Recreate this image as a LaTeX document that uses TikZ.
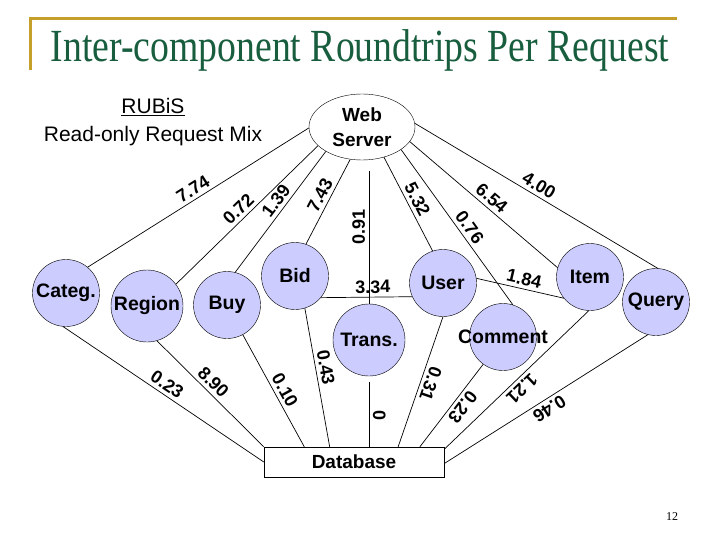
\documentclass[tikz,border=0pt]{standalone}
\usepackage{fontspec}
\setmainfont{Liberation Sans}
\newfontfamily\titlefont{Liberation Serif}
\usetikzlibrary{shapes.geometric}

\definecolor{compfill}{RGB}{204,204,255}
\definecolor{titlegreen}{RGB}{24,94,62}
\definecolor{rulegold}{RGB}{198,158,42}

\tikzstyle{comp} = [circle, draw=black, fill=compfill, minimum size=67pt, inner sep=0pt]
\tikzstyle{every label} = [font=\fontsize{19.5}{20}\selectfont\bfseries]
\tikzstyle{server} = [ellipse, draw=black, minimum width=106pt, minimum height=66pt, inner sep=0pt, align=center, font=\fontsize{19}{25}\selectfont\bfseries]
\tikzstyle{store} = [rectangle, draw=black, minimum width=180pt, minimum height=30pt, font=\fontsize{19}{20}\selectfont\bfseries]
\tikzstyle{link} = [line width=0.7pt]
\tikzstyle{num} = [sloped, above, allow upside down, inner sep=3.5pt, font=\fontsize{18}{18}\selectfont\bfseries]

\begin{document}
\begin{tikzpicture}[x=1pt, y=-1pt]
\useasboundingbox (0,0) rectangle (720,540);

% Title
\draw [rulegold, line width=3pt] (30,70) -- (30,19) -- (677,19);
\node (title) [anchor=base, xscale=0.82, text=titlegreen, font=\titlefont\fontsize{46}{46}\selectfont] at (360,62) {Inter-component Roundtrips Per Request};
\node (rubis) [font=\fontsize{21}{21}\selectfont] at (153,107) {\underline{RUBiS}};
\node (mix) [font=\fontsize{21}{21}\selectfont] at (153,136) {Read-only Request Mix};

% Components
\node (web) [server] at (362,127) {Web\\Server};
\node (categ) [comp, label=center:Categ.] at (66,293) {};
\node (region) [comp, minimum size=72pt, label=center:Region] at (147,306) {};
\node (buy) [comp, label=center:Buy] at (227,305) {};
\node (bid) [comp, label=center:Bid] at (295,276) {};
\node (trans) [comp, minimum size=72pt, label=center:Trans.] at (369,340) {};
\node (user) [comp, label=center:User] at (443,283) {};
\node (comment) [comp, label=center:Comment] at (503,337) {};
\node (item) [comp, label=center:Item] at (590,277) {};
\node (query) [comp, label=center:Query] at (656,302) {};
\node (db) [store] at (354,462) {Database};
\coordinate (wstop) at (369,171);

% Lines to the web server
\draw [link] (categ.50) -- node[num, pos=0.5] {7.74} (web.181);
\draw [link] (region.37) -- node[num, pos=0.49] {0.72} (web.203);
\draw [link] (buy.76) -- node[num, pos=0.54] {1.39} (web.214);
\draw [link] (bid.71) -- node[num, pos=0.52] {7.43} (web.250);
\draw [link] (trans) -- node[num, pos=0.58] {0.91} (wstop);
\draw [link] (web.306) -- node[num, pos=0.5] {5.32} (user.108);
\draw [link] (web.330) -- node[num, pos=0.54] {0.76} (comment.73);
\draw [link] (web.343) -- node[num, pos=0.51] {6.54} (item.164);
\draw [link] (web.4) -- node[num, pos=0.49] {4.00} (query.87);

% Lines between components
\draw [link] (bid.320) -- node[num, pos=0.57] {3.34} (user.204);
\draw [link] (user.8) -- node[num, pos=0.52] {1.84} (item.219);

% Lines to the database
\draw [link] (categ.265) -- node[num, pos=0.49] {0.23} (db.west);
\draw [link] (region.286) -- node[num, pos=0.46] {8.90} (db.north west);
\draw [link] (buy.298) -- node[num, pos=0.54] {0.10} (db.163);
\draw [link] (bid.287) -- node[num, pos=0.44] {0.43} (db.148);
\draw [link, shorten <=6pt] (trans) -- node[num, pos=0.56] {0} (trans |- db.north);
\draw [link] (user.270) -- node[num, pos=0.49] {0.31} (db.19);
\draw [link] (comment.234) -- node[num, pos=0.45] {0.23} (db.13);
\draw [link] (item.268) -- node[num, pos=0.51] {1.21} (db.8);
\draw [link] (query.256) -- node[num, pos=0.51] {0.46} (db.359);

\node (page) [font=\titlefont\fontsize{12}{12}\selectfont] at (672,517) {12};
\end{tikzpicture}
\end{document}
